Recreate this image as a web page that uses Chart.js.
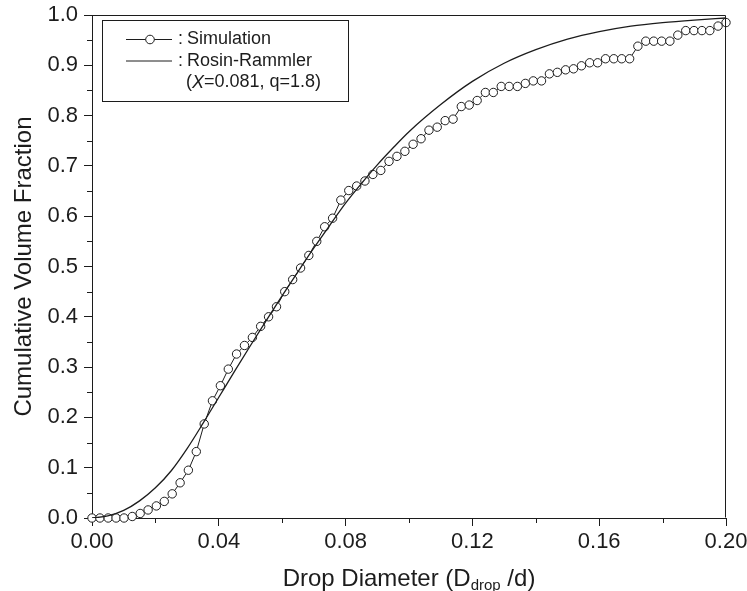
<!DOCTYPE html>
<html>
<head>
<meta charset="utf-8">
<script src="https://cdn.jsdelivr.net/npm/chart.js@4.4.1/dist/chart.umd.min.js"></script>
<style>
  html, body { margin: 0; padding: 0; background: #fff; }
  canvas { display: block; }
</style>
</head>
<body>
<canvas id="chart" width="747" height="591"></canvas>
<script>
// Simulated cumulative volume fraction vs. normalised drop diameter
const simDiameter = [
  0.0000, 0.0025, 0.0051, 0.0076, 0.0101, 0.0127, 0.0152, 0.0177, 0.0203, 0.0228,
  0.0253, 0.0278, 0.0304, 0.0329, 0.0354, 0.0380, 0.0405, 0.0430, 0.0456, 0.0481,
  0.0506, 0.0532, 0.0557, 0.0582, 0.0608, 0.0633, 0.0658, 0.0684, 0.0709, 0.0734,
  0.0759, 0.0785, 0.0810, 0.0835, 0.0861, 0.0886, 0.0911, 0.0937, 0.0962, 0.0987,
  0.1013, 0.1038, 0.1063, 0.1089, 0.1114, 0.1139, 0.1165, 0.1190, 0.1215, 0.1241,
  0.1266, 0.1291, 0.1316, 0.1342, 0.1367, 0.1392, 0.1418, 0.1443, 0.1468, 0.1494,
  0.1519, 0.1544, 0.1570, 0.1595, 0.1620, 0.1646, 0.1671, 0.1696, 0.1722, 0.1747,
  0.1772, 0.1797, 0.1823, 0.1848, 0.1873, 0.1899, 0.1924, 0.1949, 0.1975, 0.2000
];
const simFraction = [
  0.000, 0.000, 0.000, 0.000, 0.000, 0.003, 0.009, 0.016, 0.024, 0.033,
  0.048, 0.070, 0.095, 0.132, 0.187, 0.233, 0.263, 0.296, 0.326, 0.343,
  0.359, 0.381, 0.400, 0.420, 0.450, 0.474, 0.497, 0.522, 0.550, 0.579,
  0.596, 0.632, 0.651, 0.660, 0.670, 0.683, 0.691, 0.709, 0.719, 0.729,
  0.743, 0.754, 0.771, 0.777, 0.790, 0.793, 0.818, 0.821, 0.830, 0.846,
  0.846, 0.858, 0.858, 0.858, 0.864, 0.869, 0.869, 0.883, 0.886, 0.891,
  0.893, 0.899, 0.905, 0.905, 0.913, 0.913, 0.913, 0.913, 0.938, 0.948,
  0.948, 0.948, 0.948, 0.960, 0.969, 0.969, 0.969, 0.969, 0.978, 0.985
];

// Rosin-Rammler distribution curve (X = 0.081, q = 1.8)
const fitDiameter = [
  0.000, 0.005, 0.010, 0.015, 0.020, 0.025, 0.030, 0.035, 0.040, 0.045,
  0.050, 0.055, 0.060, 0.065, 0.070, 0.075, 0.080, 0.085, 0.090, 0.095,
  0.100, 0.110, 0.120, 0.130, 0.140, 0.150, 0.160, 0.170, 0.180, 0.190, 0.200
];
const fitFraction = [
  0.000, 0.004, 0.015, 0.034, 0.060, 0.094, 0.138, 0.188, 0.240, 0.292,
  0.343, 0.393, 0.442, 0.490, 0.537, 0.582, 0.626, 0.665, 0.702, 0.736,
  0.768, 0.822, 0.868, 0.904, 0.931, 0.952, 0.967, 0.978, 0.985, 0.990, 0.994
];

// Axis ticks
const xMajorValues = [0, 0.04, 0.08, 0.12, 0.16, 0.20];
const xTickLabels = ['0.00', '0.04', '0.08', '0.12', '0.16', '0.20'];
const yMajorValues = [0, 0.1, 0.2, 0.3, 0.4, 0.5, 0.6, 0.7, 0.8, 0.9, 1.0];
const yTickLabels = ['0.0', '0.1', '0.2', '0.3', '0.4', '0.5', '0.6', '0.7', '0.8', '0.9', '1.0'];

const seriesNames = ['Simulation', 'Rosin-Rammler'];
const yTitle = 'Cumulative Volume Fraction';

const FONT = '"Liberation Sans", Arial, Helvetica, sans-serif';
const INK = '#1c1c1c';

function majorIndex(list, v) {
  return list.findIndex(m => Math.abs(m - v) < 1e-9);
}

// Frame, minor ticks, x-axis title with subscript and the legend box
const decorations = {
  id: 'decorations',
  afterDraw(chart) {
    const { ctx, chartArea: a, scales: { x, y } } = chart;
    ctx.save();
    ctx.strokeStyle = INK;
    ctx.lineWidth = 1;

    // top and right edges of the plot frame
    const L = Math.round(a.left) + 0.5, R = Math.round(a.right) - 0.5;
    const T = Math.round(a.top) + 0.5, B = Math.round(a.bottom) - 0.5;
    ctx.beginPath();
    ctx.moveTo(L, T); ctx.lineTo(R, T); ctx.lineTo(R, B);
    ctx.stroke();

    // minor ticks (shorter than labelled ones)
    ctx.beginPath();
    x.ticks.forEach(t => {
      if (majorIndex(xMajorValues, t.value) >= 0) return;
      const px = Math.round(x.getPixelForValue(t.value)) + 0.5;
      ctx.moveTo(px, a.bottom); ctx.lineTo(px, a.bottom + 5);
    });
    y.ticks.forEach(t => {
      if (majorIndex(yMajorValues, t.value) >= 0) return;
      const py = Math.round(y.getPixelForValue(t.value)) + 0.5;
      ctx.moveTo(a.left, py); ctx.lineTo(a.left - 5, py);
    });
    ctx.stroke();

    // x-axis title: Drop Diameter (D_drop /d)
    ctx.fillStyle = INK;
    ctx.textBaseline = 'alphabetic';
    ctx.textAlign = 'left';
    const big = '24px ' + FONT, small = '15px ' + FONT;
    const p1 = 'Drop Diameter (D', p2 = 'drop', p3 = ' /d)';
    ctx.font = big; const w1 = ctx.measureText(p1).width, w3 = ctx.measureText(p3).width;
    ctx.font = small; const w2 = ctx.measureText(p2).width;
    let tx = (a.left + a.right) / 2 - (w1 + w2 + w3) / 2;
    const base = 586;
    ctx.font = big; ctx.fillText(p1, tx, base); tx += w1;
    ctx.font = small; ctx.fillText(p2, tx, base + 4); tx += w2;
    ctx.font = big; ctx.fillText(p3, tx, base);

    // legend
    ctx.strokeRect(102.5, 20.5, 246, 81);
    const rows = [39.5, 61, 82.5];
    ctx.beginPath();
    ctx.moveTo(126, rows[0]); ctx.lineTo(172, rows[0]);
    ctx.moveTo(126, rows[1]); ctx.lineTo(172, rows[1]);
    ctx.stroke();
    ctx.beginPath();
    ctx.arc(150, rows[0], 4.3, 0, Math.PI * 2);
    ctx.fillStyle = '#fff'; ctx.fill(); ctx.stroke();

    ctx.fillStyle = INK;
    ctx.textBaseline = 'middle';
    const lf = '18px ' + FONT;
    ctx.font = lf;
    ctx.fillText(':', 178, rows[0]);
    ctx.fillText(seriesNames[0], 187, rows[0]);
    ctx.fillText(':', 178, rows[1]);
    ctx.fillText(seriesNames[1], 187, rows[1]);
    let lx = 186;
    const parts = [['(', lf], ['X', 'italic ' + lf], ['=0.081, q=1.8)', lf]];
    parts.forEach(([s, f]) => {
      ctx.font = f; ctx.fillText(s, lx, rows[2]); lx += ctx.measureText(s).width;
    });
    ctx.restore();
  }
};

new Chart(document.getElementById('chart'), {
  type: 'line',
  data: {
    datasets: [
      {
        label: seriesNames[1],
        data: fitDiameter.map((d, i) => ({ x: d, y: fitFraction[i] })),
        borderColor: INK,
        borderWidth: 1.3,
        pointRadius: 0,
        cubicInterpolationMode: 'monotone',
        fill: false
      },
      {
        label: seriesNames[0],
        data: simDiameter.map((d, i) => ({ x: d, y: simFraction[i] })),
        borderColor: INK,
        borderWidth: 1,
        tension: 0,
        pointRadius: 4.2,
        pointBorderWidth: 1,
        pointBorderColor: INK,
        pointBackgroundColor: '#fff',
        clip: false,
        fill: false
      }
    ]
  },
  options: {
    responsive: false,
    devicePixelRatio: 1,
    animation: false,
    events: [],
    layout: { padding: { left: 0, right: 21, top: 15, bottom: 0 } },
    plugins: { legend: { display: false }, tooltip: { enabled: false } },
    scales: {
      x: {
        type: 'linear',
        min: 0, max: 0.2,
        afterFit: s => { s.height = 73; s.paddingLeft = 0; s.paddingRight = 0; },
        border: { display: true, color: INK, width: 1 },
        grid: {
          drawOnChartArea: false, drawTicks: true, tickLength: 8,
          tickColor: c => majorIndex(xMajorValues, c.tick.value) >= 0 ? INK : 'rgba(0,0,0,0)'
        },
        ticks: {
          stepSize: 0.02, autoSkip: false, maxRotation: 0, padding: 3,
          color: INK, font: { family: FONT, size: 22 },
          callback: v => { const i = majorIndex(xMajorValues, v); return i < 0 ? '' : xTickLabels[i]; }
        },
        title: { display: false }
      },
      y: {
        type: 'linear',
        min: 0, max: 1,
        afterFit: s => { s.width = 92; s.paddingTop = 0; s.paddingBottom = 0; },
        border: { display: true, color: INK, width: 1 },
        grid: {
          drawOnChartArea: false, drawTicks: true, tickLength: 8,
          tickColor: c => majorIndex(yMajorValues, c.tick.value) >= 0 ? INK : 'rgba(0,0,0,0)'
        },
        ticks: {
          stepSize: 0.05, autoSkip: false, padding: 6,
          color: INK, font: { family: FONT, size: 22 },
          callback: v => { const i = majorIndex(yMajorValues, v); return i < 0 ? '' : yTickLabels[i]; }
        },
        title: {
          display: true, text: yTitle, color: INK,
          font: { family: FONT, size: 24 },
          padding: { top: 10, bottom: 0 }
        }
      }
    }
  },
  plugins: [decorations]
});
</script>
</body>
</html>
